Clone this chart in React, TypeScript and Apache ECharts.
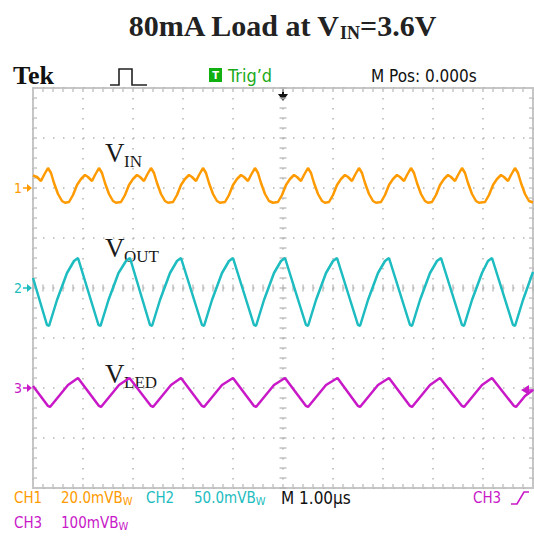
import React, { useEffect, useRef } from "react";
import * as echarts from "echarts";

// Horizontal: 1.00 µs/div, 10 divisions. Vertical: 8 divisions.
const timeMin = 0;
const timeMax = 10;
const divMin = -4;
const divMax = 4;

// Channel settings (mV/div) and ground marker position (divisions from centre)
const ch1Scale = 20;
const ch2Scale = 50;
const ch3Scale = 100;
const ch1Offset = 2;
const ch2Offset = 0;
const ch3Offset = -2;

// CH1 – V_IN ripple [time µs, mV]
const vinData: [number, number][] = [
  [0.0, 5.0], [0.08, 4.4], [0.16, 2.8], [0.22, 5.2], [0.3, 8.0],
  [0.36, 6.0], [0.42, 2.0], [0.5, -2.4], [0.58, -5.2], [0.64, -5.9], [0.72, -5.6], [0.8, -2.8], [0.88, 1.2], [0.96, 3.6], [1.04, 5.2], [1.1, 4.4], [1.18, 2.8], [1.24, 5.2], [1.32, 8.0],
  [1.38, 6.0], [1.44, 2.0], [1.52, -2.4], [1.6, -5.2], [1.66, -5.9], [1.76, -5.6], [1.84, -2.8], [1.92, 1.2], [2.0, 3.6], [2.08, 5.2], [2.14, 4.4], [2.22, 2.8], [2.28, 5.2], [2.36, 8.0],
  [2.42, 6.0], [2.48, 2.0], [2.56, -2.4], [2.64, -5.2], [2.7, -5.9], [2.8, -5.6], [2.88, -2.8], [2.96, 1.2], [3.04, 3.6], [3.12, 5.2], [3.18, 4.4], [3.26, 2.8], [3.32, 5.2], [3.4, 8.0],
  [3.46, 6.0], [3.52, 2.0], [3.6, -2.4], [3.68, -5.2], [3.74, -5.9], [3.84, -5.6], [3.92, -2.8], [4.0, 1.2], [4.08, 3.6], [4.16, 5.2], [4.22, 4.4], [4.3, 2.8], [4.36, 5.2], [4.44, 8.0],
  [4.5, 6.0], [4.56, 2.0], [4.64, -2.4], [4.72, -5.2], [4.8, -5.9], [4.9, -5.6], [4.98, -2.8], [5.06, 1.2], [5.14, 3.6], [5.22, 5.2], [5.28, 4.4], [5.36, 2.8], [5.42, 5.2], [5.5, 8.0],
  [5.56, 6.0], [5.62, 2.0], [5.7, -2.4], [5.78, -5.2], [5.84, -5.9], [5.92, -5.6], [6.0, -2.8], [6.08, 1.2], [6.16, 3.6], [6.24, 5.2], [6.3, 4.4], [6.38, 2.8], [6.44, 5.2], [6.52, 8.0],
  [6.58, 6.0], [6.64, 2.0], [6.72, -2.4], [6.8, -5.2], [6.86, -5.9], [6.96, -5.6], [7.04, -2.8], [7.12, 1.2], [7.2, 3.6], [7.28, 5.2], [7.34, 4.4], [7.42, 2.8], [7.48, 5.2], [7.56, 8.0],
  [7.62, 6.0], [7.68, 2.0], [7.76, -2.4], [7.84, -5.2], [7.9, -5.9], [7.98, -5.6], [8.06, -2.8], [8.14, 1.2], [8.22, 3.6], [8.3, 5.2], [8.36, 4.4], [8.44, 2.8], [8.5, 5.2], [8.58, 8.0],
  [8.64, 6.0], [8.7, 2.0], [8.78, -2.4], [8.86, -5.2], [8.92, -5.9], [9.04, -5.6], [9.12, -2.8], [9.2, 1.2], [9.28, 3.6], [9.36, 5.2], [9.42, 4.4], [9.5, 2.8], [9.56, 5.2], [9.64, 8.0],
  [9.7, 6.0], [9.76, 2.0], [9.84, -2.4], [9.92, -5.2], [10.0, -5.8],
];

// CH2 – V_OUT ripple [time µs, mV]
const voutData: [number, number][] = [
  [0.0, 10],
  [0.28, -37], [0.32, -38], [0.48, -12], [0.68, 15], [0.82, 27], [0.9, 30],
  [1.31, -37], [1.35, -38], [1.51, -12], [1.71, 15], [1.86, 27], [1.94, 30],
  [2.34, -37], [2.38, -38], [2.54, -12], [2.74, 15], [2.88, 27], [2.96, 30],
  [3.38, -37], [3.42, -38], [3.58, -12], [3.78, 15], [3.92, 27], [4.0, 30],
  [4.42, -37], [4.46, -38], [4.62, -12], [4.82, 15], [4.96, 27], [5.04, 30],
  [5.46, -37], [5.5, -38], [5.66, -12], [5.86, 15], [6.0, 27], [6.08, 30],
  [6.5, -37], [6.54, -38], [6.7, -12], [6.9, 15], [7.04, 27], [7.12, 30],
  [7.54, -37], [7.58, -38], [7.74, -12], [7.94, 15], [8.08, 27], [8.16, 30],
  [8.58, -37], [8.62, -38], [8.78, -12], [8.98, 15], [9.1, 27], [9.18, 30],
  [9.6, -37], [9.64, -38], [9.8, -12], [10.0, 16],
];

// CH3 – V_LED ripple [time µs, mV]
const vledData: [number, number][] = [
  [0.0, 4],
  [0.3, -36], [0.34, -38], [0.52, -16], [0.7, 6], [0.9, 20],
  [1.32, -36], [1.36, -38], [1.54, -16], [1.72, 6], [1.93, 20],
  [2.36, -36], [2.4, -38], [2.58, -16], [2.76, 6], [2.96, 20],
  [3.38, -36], [3.42, -38], [3.6, -16], [3.78, 6], [4.0, 20],
  [4.42, -36], [4.46, -38], [4.64, -16], [4.82, 6], [5.04, 20],
  [5.46, -36], [5.5, -38], [5.68, -16], [5.86, 6], [6.09, 20],
  [6.5, -36], [6.54, -38], [6.72, -16], [6.9, 6], [7.12, 20],
  [7.54, -36], [7.58, -38], [7.76, -16], [7.94, 6], [8.14, 20],
  [8.58, -36], [8.62, -38], [8.8, -16], [8.98, 6], [9.18, 20],
  [9.62, -36], [9.66, -38], [9.84, -16], [10.0, -4],
];

const titleParts = ["80mA Load at V", "IN", "=3.6V"];
const ch1Label = ["CH1", "20.0mVB", "W"];
const ch2Label = ["CH2", "50.0mVB", "W"];
const ch3Label = ["CH3", "100mVB", "W"];
const timebaseLabel = "M 1.00\u00b5s";
const trigSourceLabel = "CH3";
const mPosLabel = "M Pos: 0.000s";
const trigState = "Trig\u2019d";

const ORANGE = "#ff9a00";
const CYAN = "#1cbcc0";
const MAGENTA = "#c818c8";
const GREEN = "#1aaa1a";
const BORDER = "#c6c6c6";
const DOT = "#b4b4b4";

const NARROW = "'Liberation Sans Narrow', 'DejaVu Sans Condensed', 'Roboto Condensed', 'Liberation Sans', sans-serif";
const SERIF = "'Liberation Serif', 'DejaVu Serif', serif";

const toDiv = (data: [number, number][], scale: number, offset: number) =>
  data.map(([t, mv]) => [t, mv / scale + offset]);

export default function App() {
  const ref = useRef<HTMLDivElement>(null);

  useEffect(() => {
    const chart = echarts.init(ref.current!, null, { renderer: "svg" });

    const baseX = {
      type: "value",
      min: timeMin,
      max: timeMax,
      interval: 1,
      axisLine: { show: false, onZero: false },
      axisLabel: { show: false },
      axisTick: { show: true, inside: true, length: 4, lineStyle: { color: BORDER, width: 1.5 } },
      minorTick: { show: true, splitNumber: 5, length: 4, lineStyle: { color: BORDER, width: 1.5 } },
    };
    const baseY = {
      type: "value",
      min: divMin,
      max: divMax,
      interval: 1,
      axisLine: { show: false, onZero: false },
      axisLabel: { show: false },
      axisTick: { show: true, inside: true, length: 4, lineStyle: { color: BORDER, width: 1.5 } },
      minorTick: { show: true, splitNumber: 5, length: 4, lineStyle: { color: BORDER, width: 1.5 } },
    };

    // graticule centre-line dashes (every minor step)
    const hDash: number[][] = [];
    for (let k = 0; k <= 50; k++) hDash.push([timeMin + k * 0.2, 0]);
    const vDash: number[][] = [];
    for (let k = 0; k <= 40; k++) vDash.push([5, divMin + k * 0.2]);

    const marker = (n: string, y: number, color: string) => [
      { type: "text", x: 18, y, style: { text: n, fill: color, font: `14px ${NARROW}`, textAlign: "center", textVerticalAlign: "middle" } },
      { type: "line", shape: { x1: 23, y1: y, x2: 29, y2: y }, style: { stroke: color, lineWidth: 1.5 } },
      { type: "polygon", shape: { points: [[27, y - 4], [27, y + 4], [32, y]] }, style: { fill: color } },
    ];

    const vLabel = (sub: string, baseline: number) => [
      { type: "text", x: 105, y: baseline - 9, style: { text: "V", fill: "#1a1a1a", font: `27px ${SERIF}`, textAlign: "left", textVerticalAlign: "middle" } },
      { type: "text", x: 124, y: baseline - 1, style: { text: sub, fill: "#1a1a1a", font: `17px ${SERIF}`, textAlign: "left", textVerticalAlign: "middle" } },
    ];

    const chText = (x: number, y: number, parts: string[], color: string, valueX: number) => [
      { type: "text", x, y, style: { text: parts[0], fill: color, font: `15px ${NARROW}`, textAlign: "left", textVerticalAlign: "middle" } },
      {
        type: "text",
        x: valueX,
        y,
        style: {
          text: `{a|${parts[1]}}{s|${parts[2]}}`,
          textAlign: "left",
          textVerticalAlign: "middle",
          rich: {
            a: { fill: color, fontSize: 15, fontFamily: NARROW, lineHeight: 18, verticalAlign: "middle" },
            s: { fill: color, fontSize: 11, fontFamily: NARROW, lineHeight: 10, verticalAlign: "bottom" },
          },
        },
      },
    ];

    const option = {
      animation: false,
      backgroundColor: "#ffffff",
      grid: { left: 33, top: 88, width: 500, height: 400, show: true, borderColor: BORDER, borderWidth: 2, backgroundColor: "transparent" },
      xAxis: [
        { ...baseX, position: "bottom", splitLine: { show: true, lineStyle: { color: DOT, width: 1.5, type: [1.5, 8.5] } } },
        { ...baseX, position: "top", splitLine: { show: false } },
      ],
      yAxis: [
        { ...baseY, position: "left", splitLine: { show: true, lineStyle: { color: DOT, width: 1.5, type: [1.5, 8.5] } } },
        { ...baseY, position: "right", splitLine: { show: false } },
      ],
      series: [
        { type: "scatter", silent: true, z: 1, symbol: "rect", symbolSize: [1.5, 7], itemStyle: { color: DOT }, data: hDash },
        { type: "scatter", silent: true, z: 1, symbol: "rect", symbolSize: [7, 1.5], itemStyle: { color: DOT }, data: vDash },
        { name: "VIN", type: "line", z: 3, showSymbol: false, lineStyle: { color: ORANGE, width: 2.5 }, data: toDiv(vinData, ch1Scale, ch1Offset) },
        { name: "VOUT", type: "line", z: 3, showSymbol: false, lineStyle: { color: CYAN, width: 2.5 }, data: toDiv(voutData, ch2Scale, ch2Offset) },
        { name: "VLED", type: "line", z: 3, showSymbol: false, lineStyle: { color: MAGENTA, width: 2.5 }, data: toDiv(vledData, ch3Scale, ch3Offset) },
      ],
      graphic: [
        {
          type: "text",
          x: 282,
          y: 25,
          style: {
            text: `{a|${titleParts[0]}}{b|${titleParts[1]}}{a|${titleParts[2]}}`,
            textAlign: "center",
            textVerticalAlign: "middle",
            rich: {
              a: { fill: "#222", fontSize: 30, fontWeight: "bold", fontFamily: SERIF, lineHeight: 34, verticalAlign: "middle" },
              b: { fill: "#222", fontSize: 18, fontWeight: "bold", fontFamily: SERIF, lineHeight: 16, verticalAlign: "bottom" },
            },
          },
        },
        { type: "text", x: 13, y: 75, style: { text: "Tek", fill: "#111", font: `bold 26px ${SERIF}`, textAlign: "left", textVerticalAlign: "middle" } },
        { type: "polyline", shape: { points: [[110, 85], [119, 85], [119, 69], [132, 69], [132, 85], [147, 85]] }, style: { stroke: "#222", lineWidth: 1.6, fill: "none" } },
        { type: "rect", shape: { x: 209, y: 68, width: 13, height: 14 }, style: { fill: "#10b010" } },
        { type: "text", x: 215.5, y: 75.5, style: { text: "T", fill: "#fff", font: `bold 11px ${NARROW}`, textAlign: "center", textVerticalAlign: "middle" } },
        { type: "text", x: 228, y: 75.5, style: { text: trigState, fill: GREEN, font: `18px ${NARROW}`, textAlign: "left", textVerticalAlign: "middle" } },
        { type: "text", x: 371, y: 75.5, style: { text: mPosLabel, fill: "#111", font: `17px ${NARROW}`, textAlign: "left", textVerticalAlign: "middle" } },
        { type: "line", shape: { x1: 283, y1: 88, x2: 283, y2: 96 }, style: { stroke: "#111", lineWidth: 2 } },
        { type: "polygon", shape: { points: [[278, 94], [288, 94], [283, 101]] }, style: { fill: "#111" } },
        ...marker("1", 188, ORANGE),
        ...marker("2", 288, CYAN),
        ...marker("3", 388, MAGENTA),
        ...vLabel("IN", 162),
        ...vLabel("OUT", 257),
        ...vLabel("LED", 383),
        ...chText(14, 498, ch1Label, ORANGE, 61),
        ...chText(146, 498, ch2Label, CYAN, 194),
        { type: "text", x: 281, y: 498, style: { text: timebaseLabel, fill: "#111", font: `17px ${NARROW}`, textAlign: "left", textVerticalAlign: "middle" } },
        { type: "text", x: 473, y: 498, style: { text: trigSourceLabel, fill: MAGENTA, font: `15px ${NARROW}`, textAlign: "left", textVerticalAlign: "middle" } },
        { type: "polyline", shape: { points: [[511, 504], [517, 504], [524, 492], [529, 492]] }, style: { stroke: MAGENTA, lineWidth: 1.6, fill: "none" } },
        ...chText(14, 523, ch3Label, MAGENTA, 61),
        { type: "line", shape: { x1: 527, y1: 390, x2: 534, y2: 390 }, style: { stroke: MAGENTA, lineWidth: 1.5 } },
        { type: "polygon", shape: { points: [[521, 390], [529, 385], [529, 395]] }, style: { fill: MAGENTA } },
      ],
    };

    chart.setOption(option as any);
    return () => chart.dispose();
  }, []);

  return (
    <div
      ref={ref}
      style={{ position: "fixed", left: 0, top: 0, width: 534, height: 540, background: "#fff" }}
    />
  );
}
